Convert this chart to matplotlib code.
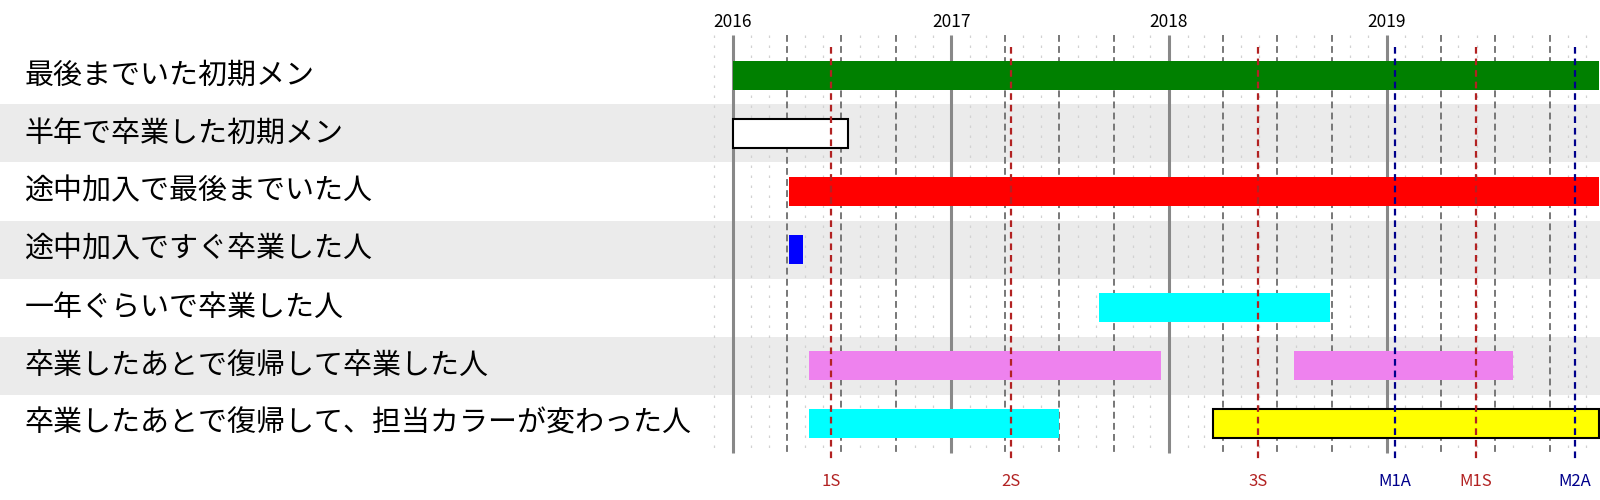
import datetime as dt
import matplotlib.pyplot as plt
import matplotlib.dates as mdates

plt.rcParams['font.family'] = ['Noto Sans CJK JP', 'DejaVu Sans']

ROW_LABELS = [
    "最後までいた初期メン",
    "半年で卒業した初期メン",
    "途中加入で最後までいた人",
    "途中加入ですぐ卒業した人",
    "一年ぐらいで卒業した人",
    "卒業したあとで復帰して卒業した人",
    "卒業したあとで復帰して、担当カラーが変わった人",
]

# one entry per bar
BAR_ROWS = [0, 1, 2, 3, 4, 5, 5, 6, 6]
BAR_STARTS = ["2016-01-01", "2016-01-01", "2016-04-05", "2016-04-05", "2017-09-05",
              "2016-05-07", "2018-07-30", "2016-05-07", "2018-03-15"]
BAR_ENDS = ["2019-12-23", "2016-07-12", "2019-12-23", "2016-04-27", "2018-09-28",
            "2017-12-18", "2019-07-31", "2017-07-01", "2019-12-23"]
BAR_COLORS = ["green", "white", "red", "blue", "cyan",
              "violet", "violet", "cyan", "yellow"]
BAR_EDGES = ["none", "black", "none", "none", "none",
             "none", "none", "none", "black"]

EVENT_NAMES = ["1S", "2S", "3S", "M1A", "M1S", "M2A"]
EVENT_DATES = ["2016-06-14", "2017-04-12", "2018-05-30", "2019-01-15", "2019-05-30", "2019-11-12"]
EVENT_COLORS = ["firebrick", "firebrick", "firebrick", "darkblue", "firebrick", "darkblue"]

YEARS = [2016, 2017, 2018, 2019]


def d(s):
    return mdates.date2num(dt.date.fromisoformat(s))


fig = plt.figure(figsize=(16, 5), dpi=100)
ax = fig.add_axes([0, 0, 1, 1])
ax.axis('off')

# pixel layout: 2016-01-01 at x=732.7px, 218px per year
x0 = mdates.date2num(dt.date(2016, 1, 1))
ppd = 218 / 365.25
ax.set_xlim(x0 - 732.7 / ppd, x0 + 867.3 / ppd)
ax.set_ylim((500 - 75.5) / 58, -75.5 / 58)

# row bands
for i in range(len(ROW_LABELS)):
    if i % 2 == 1:
        ax.axhspan(i - 0.5, i + 0.5, color='#ebebeb', zorder=0, lw=0)
    ax.text(24.5 / 1600, i, ROW_LABELS[i], transform=ax.get_yaxis_transform(),
            ha='left', va='center', fontsize=20.9, color='black')

# grid: months dotted, quarters dashed, years solid
g_top, g_bot = (35 - 75.5) / 58, (453 - 75.5) / 58
for y in range(2015, 2020):
    for m in range(1, 13):
        if y == 2015 and m < 12:
            continue
        x = mdates.date2num(dt.date(y, m, 1))
        if m == 1:
            ax.vlines(x, g_top, g_bot, color='#888888', lw=2.2, zorder=1)
        elif m in (4, 7, 10):
            ax.vlines(x, g_top, g_bot, color='#777777', lw=1.4, linestyles=(0, (3.5, 2.2)), zorder=1)
        else:
            ax.vlines(x, g_top, g_bot, color='#d2d2d2', lw=0.9, linestyles=(0, (2, 6)), zorder=1)

for y in YEARS:
    ax.text(mdates.date2num(dt.date(y, 1, 1)), (22 - 75.5) / 58, str(y),
            ha='center', va='center', fontsize=12.5, color='black')

# bars
for r, s, e, c, ec in zip(BAR_ROWS, BAR_STARTS, BAR_ENDS, BAR_COLORS, BAR_EDGES):
    ax.barh(r, d(e) - d(s), left=d(s), height=0.5, color=c,
            edgecolor=ec, linewidth=1.5 if ec != "none" else 0, zorder=2)

# events
e_top, e_bot = (47 - 75.5) / 58, (459 - 75.5) / 58
for name, date, c in zip(EVENT_NAMES, EVENT_DATES, EVENT_COLORS):
    ax.vlines(d(date), e_top, e_bot, color=c, lw=1.6, linestyles=(0, (3, 2.2)), zorder=3)
    ax.text(d(date), (482 - 75.5) / 58, name, ha='center', va='center',
            fontsize=12, color=c)

fig.savefig("out.png", dpi=100)
